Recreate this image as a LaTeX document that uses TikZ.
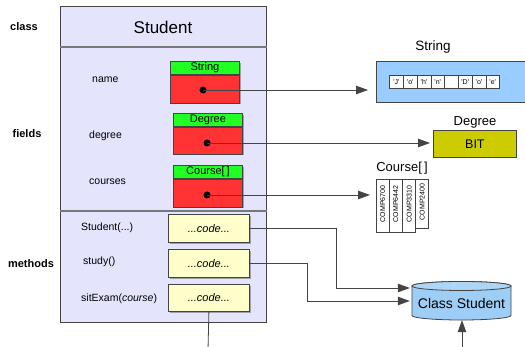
\documentclass[tikz,border=0pt]{standalone}
\usepackage{fontspec}
\setmainfont{Liberation Sans}
\usetikzlibrary{arrows.meta,shadows,calc}
\definecolor{lav}{RGB}{228,228,252}
\definecolor{fgreen}{RGB}{34,255,34}
\definecolor{fred}{RGB}{255,51,51}
\definecolor{cyell}{RGB}{255,255,204}
\definecolor{sblue}{RGB}{153,204,255}
\definecolor{olivebox}{RGB}{204,204,0}
\definecolor{cylblue}{RGB}{158,206,245}
\definecolor{edge}{RGB}{68,68,68}
\definecolor{sepgray}{RGB}{120,120,120}
\tikzset{
 fs/.style={font=\fontsize{#1}{#1}\selectfont},
 box/.style={draw=edge, line width=0.8pt, inner sep=0pt, anchor=north west},
 shad/.style={drop shadow={shadow xshift=1.2pt, shadow yshift=-1.2pt, fill=black, opacity=0.3}},
 head/.style={box, shad, fill=fgreen, minimum width=69pt, minimum height=13pt, fs=11},
 body/.style={box, shad, fill=fred, minimum width=69pt, minimum height=28pt},
 dotn/.style={circle, fill=black, inner sep=0pt, minimum size=7pt},
 codebox/.style={box, shad, fill=cyell, minimum width=81pt, minimum height=28pt, font=\fontsize{11}{11}\selectfont\itshape},
 lbl/.style={anchor=west, inner sep=0pt, fs=10.5},
 side/.style={inner sep=0pt, font=\fontsize{11}{11}\selectfont\bfseries},
 arr/.style={draw=edge, line width=0.8pt, -{Triangle[length=12pt,width=8.5pt]}},
 plain/.style={draw=edge, line width=0.8pt},
 cell/.style={draw=edge, line width=0.6pt, fill=white, inner sep=0pt, anchor=north west, minimum width=13.75pt, minimum height=13pt, fs=7},
 ccell/.style={draw=edge, line width=0.6pt, fill=white, inner sep=0pt, anchor=north west, minimum width=13pt, minimum height=53pt},
 ctext/.style={inner sep=0pt, rotate=90, fs=7},
 ttl/.style={inner sep=0pt, fs=#1},
}
\begin{document}
\begin{tikzpicture}[x=1pt,y=-1pt]
\useasboundingbox (0,0) rectangle (525,347);
% class box
\node[box, line width=1.2pt, fill=lav, minimum width=206pt, minimum height=316pt] (cls) at (60,6) {};
\draw[sepgray, line width=1.2pt] ([yshift=-41pt]cls.north west) -- ([yshift=-41pt]cls.north east);
\draw[sepgray, line width=1.2pt] ([yshift=-205pt]cls.north west) -- ([yshift=-205pt]cls.north east);
\node[ttl=17] (title) at (163,27) {Student};
% side labels
\node[side] (lclass) at (24,27) {class};
\node[side] (lfields) at (27,134) {fields};
\node[side] (lmethods) at (31,264) {methods};
% member labels
\node[lbl] (lname) at (92,80) {name};
\node[lbl] (ldegree) at (89,136) {degree};
\node[lbl] (lcourses) at (89,182) {courses};
\node[lbl] (lstudent) at (81,228) {Student(...)};
\node[lbl] (lstudy) at (83,262) {study()};
\node[lbl] (lsit) at (81,299) {sitExam(\textit{course})};
% field boxes
\node[head] (sh) at (170,61) {String};
\node[body] (sb) at (sh.south west) {};
\node[dotn] (sd) at (203,90) {};
\node[head] (dh) at (173,113) {Degree};
\node[body, minimum height=27pt] (db) at (dh.south west) {};
\node[dotn] (dd) at (207,143) {};
\node[head] (ch) at (173,165) {Course[\,]};
\node[body] (cb) at (ch.south west) {};
\node[dotn] (cd) at (207,195) {};
% code boxes
\node[codebox] (c1) at (168,214) {...code...};
\node[codebox] (c2) at (168,249) {...code...};
\node[codebox, minimum height=27pt] (c3) at (168,284) {...code...};
% String object
\node[ttl=13.5] (strlbl) at (433,47) {String};
\node[box, fill=sblue, minimum width=152pt, minimum height=41pt] (strobj) at (376,61) {};
\node[cell] (s1) at (389.3,75) {\textquotesingle J\textquotesingle};
\node[cell] (s2) at (403.05,75) {\textquotesingle o\textquotesingle};
\node[cell] (s3) at (416.8,75) {\textquotesingle h\textquotesingle};
\node[cell] (s4) at (430.55,75) {\textquotesingle n\textquotesingle};
\node[cell] (s5) at (444.3,75) {};
\node[cell] (s6) at (458.05,75) {\textquotesingle D\textquotesingle};
\node[cell] (s7) at (471.8,75) {\textquotesingle o\textquotesingle};
\node[cell] (s8) at (485.55,75) {\textquotesingle e\textquotesingle};
% Degree object
\node[ttl=13] (deglbl) at (475,122) {Degree};
\node[box, fill=olivebox, minimum width=83pt, minimum height=27pt, fs=12.5] (degobj) at (433,130) {BIT};
% Course array
\node[ttl=13] (crslbl) at (402,168) {Course[\,]};
\node[ccell] (cc1) at (376,179) {};
\node[ccell] (cc2) at (389,179) {};
\node[ccell] (cc3) at (402.3,179) {};
\node[ccell, minimum height=49pt] (cc4) at (415.3,179) {};
\node[ctext] at ([yshift=2pt]cc1.center) {COMP6700};
\node[ctext] at ([yshift=2pt]cc2.center) {COMP6442};
\node[ctext] at ([yshift=2pt]cc3.center) {COMP3310};
\node[ctext] at ([yshift=2pt]cc4.center) {COMP2400};
% cylinder
\fill[cylblue, draw=edge, line width=0.8pt] (412,286) -- (412,315.5) arc[start angle=180, end angle=360, x radius=49.5pt, y radius=4.5pt] -- (511,286) arc[start angle=0, end angle=180, x radius=49.5pt, y radius=4.5pt] -- cycle;
\draw[fill=cylblue!85!white, draw=edge, line width=0.8pt] (461.5,286) ellipse [x radius=49.5pt, y radius=4.5pt];
\node[inner sep=0pt, minimum width=99pt, minimum height=38pt] (cyl) at (461.5,301) {};
\node[ttl=14] (cyltext) at (461.5,303) {Class Student};
% connectors
\draw[arr, shorten >=8pt] (sd.center) -- (sd.center -| strobj.west);
\draw[arr, shorten >=3pt] (dd.center) -- (dd.center -| degobj.west);
\draw[arr, shorten >=6pt] (cd.center) -- (cd.center -| cc1.west);
\draw[arr, shorten >=2pt] (c1.east) -- ++(87,0) |- ([yshift=13pt]cyl.west);
\draw[arr, shorten >=2pt] (c2.east) -- ++(58,0) |- (cyl.west);
\coordinate (c3end) at (208,350);
\draw[plain] (c3.south) -- (c3end);
\coordinate (dbin) at (462,350);
\draw[arr] (dbin) -- (dbin |- cyl.south);
\end{tikzpicture}
\end{document}
